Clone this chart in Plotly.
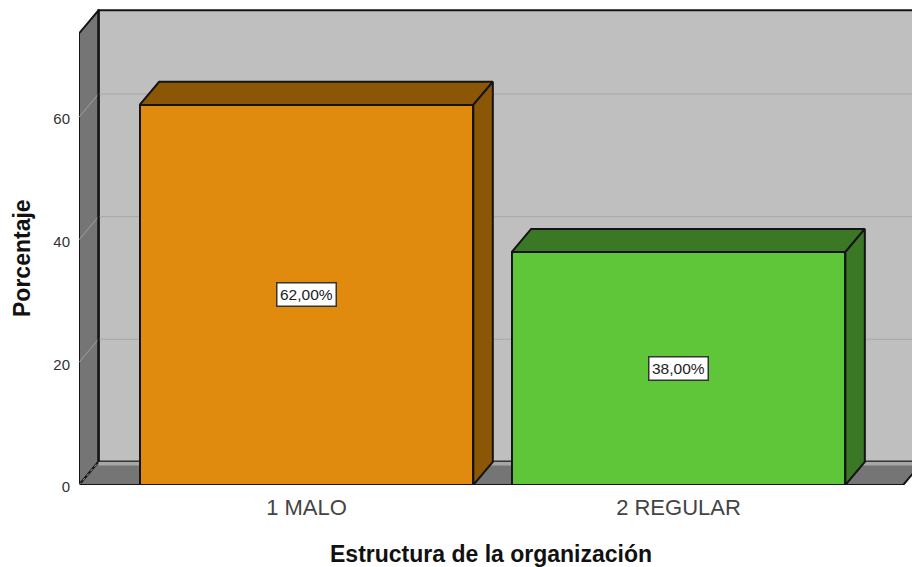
import plotly.graph_objects as go

categories = ["1 MALO", "2 REGULAR"]
values = [62, 38]
labels = ["62,00%", "38,00%"]
y_ticks = [0, 20, 40, 60]
x_title = "Estructura de la organización"
y_title = "Porcentaje"

front_colors = ["#E08A0E", "#60C639"]
dark_colors = ["#8B5707", "#3A7826"]
WALL = "#BFBFBF"
SIDE = "#757575"
EDGE = "#141414"
LW = 2

BAR_W = 0.897
DX = 0.0524   # depth in category units
DY = 3.78     # depth in value units
X0, X1 = -0.6115, 1.6277
Y1 = 77.66
WALL_TOP = 77.45
FLOOR_R = 1.604  # front right corner of the floor
positions = list(range(len(categories)))

fig = go.Figure()


def poly(xs, ys, fill, line=EDGE, width=LW, layer="below"):
    path = "M " + " L ".join(f"{a},{b}" for a, b in zip(xs, ys)) + " Z"
    return dict(type="path", path=path, fillcolor=fill, xref="x", yref="y", layer=layer,
                line=dict(color=line, width=width))


def seg(x0, y0, x1, y1, color, width=1.0, dash="solid"):
    return dict(type="line", x0=x0, y0=y0, x1=x1, y1=y1, xref="x", yref="y", layer="below",
                line=dict(color=color, width=width, dash=dash))


shapes = []
# back wall, left wall, floor
shapes.append(poly([X0 + DX, FLOOR_R + DX, FLOOR_R + DX, X0 + DX], [DY, DY, WALL_TOP, WALL_TOP], WALL))
shapes.append(poly([X0, X0 + DX, X0 + DX, X0], [0, DY, WALL_TOP, WALL_TOP - DY], SIDE))
shapes.append(poly([X0, FLOOR_R, FLOOR_R + DX, X0 + DX], [0, 0, DY, DY], SIDE))
# soft band where the wall meets the floor
shapes.append(poly([X0 + DX, FLOOR_R + DX, FLOOR_R + DX, X0 + DX], [DY - 0.6, DY - 0.6, DY, DY],
                   "#A6A6A6", line="#A6A6A6", width=0))
# grid lines on the walls
for t in y_ticks[1:]:
    shapes.append(seg(X0, t, X0 + DX, t + DY, "#A0A0A0"))
    shapes.append(seg(X0 + DX, t + DY, FLOOR_R + DX, t + DY, "#A8A8A8"))
shapes.append(seg(X0, 0, X0 + DX, DY, "#A0A0A0", dash="dot"))
shapes.append(seg(X0 + DX, DY, X0 + DX, WALL_TOP, EDGE, LW))

# front faces
fig.add_trace(go.Bar(x=positions, y=values, width=BAR_W,
                     marker=dict(color=front_colors, line=dict(color=EDGE, width=LW)),
                     hoverinfo="skip", showlegend=False))

# top and side faces
for p, v, d in zip(positions, values, dark_colors):
    l, r = p - BAR_W / 2, p + BAR_W / 2
    fig.add_trace(go.Scatter(x=[l, r, r + DX, l + DX, l], y=[v, v, v + DY, v + DY, v],
                             mode="lines", fill="toself", fillcolor=d,
                             line=dict(color=EDGE, width=LW), hoverinfo="skip", showlegend=False))
    fig.add_trace(go.Scatter(x=[r, r + DX, r + DX, r, r], y=[0, DY, v + DY, v, 0],
                             mode="lines", fill="toself", fillcolor=d,
                             line=dict(color=EDGE, width=LW), hoverinfo="skip", showlegend=False))

annotations = [dict(x=p, y=v / 2, text=t, showarrow=False, bgcolor="white", bordercolor="#333333",
                    borderwidth=1.5, borderpad=2.5, font=dict(family="Liberation Sans", size=15.5, color="#222222"))
               for p, v, t in zip(positions, values, labels)]
annotations.append(dict(xref="paper", yref="paper", x=0.4946, y=-0.145, text=x_title, showarrow=False,
                        xanchor="center", yanchor="middle",
                        font=dict(family="Liberation Sans", size=23, color="#111111", weight="bold")))
annotations.append(dict(xref="paper", yref="paper", x=-0.0684, y=0.477, text=y_title, showarrow=False,
                        textangle=-90, xanchor="center", yanchor="middle",
                        font=dict(family="Liberation Sans", size=23, color="#111111", weight="bold")))

fig.update_layout(
    width=912, height=567, margin=dict(l=79, r=0, t=9, b=82),
    plot_bgcolor="white", paper_bgcolor="white", bargap=0,
    shapes=shapes, annotations=annotations,
    xaxis=dict(range=[X0, X1], tickvals=positions, ticktext=categories, showgrid=False, zeroline=False,
               showline=False, ticks="outside", ticklen=3, tickcolor="rgba(0,0,0,0)",
               tickfont=dict(family="Liberation Sans", size=22, color="#444444")),
    yaxis=dict(range=[0, Y1], tickvals=y_ticks, showgrid=False, zeroline=False, showline=False,
               ticks="outside", ticklen=5, tickcolor="rgba(0,0,0,0)", ticklabelshift=2,
               tickfont=dict(family="Liberation Sans", size=15, color="#333333")),
    font=dict(family="Liberation Sans"),
)

fig.write_html("out.html", config=dict(displayModeBar=False),
               post_script="document.body.style.margin='0';document.body.style.overflow='hidden';")
